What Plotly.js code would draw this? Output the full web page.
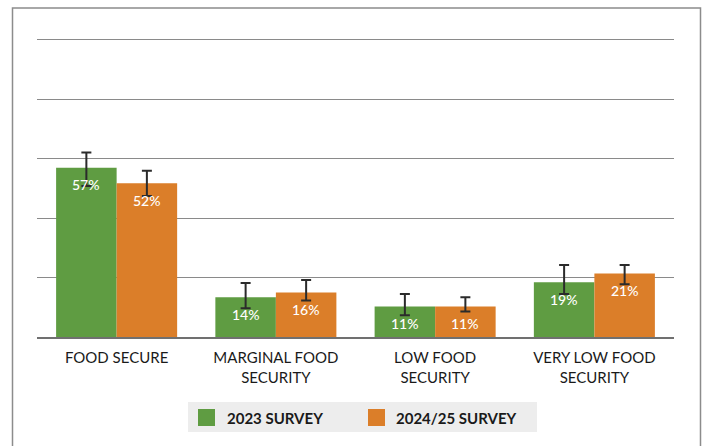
<!DOCTYPE html>
<html>
<head>
<meta charset="utf-8">
<script src="https://cdn.plot.ly/plotly-3.0.1.min.js"></script>
<style>html,body{margin:0;padding:0;background:#fff;}#chart{width:704px;height:446px;}</style>
</head>
<body>
<div id="chart"></div>
<script>
// ---- data ----
const categories = ["FOOD SECURE", "MARGINAL FOOD<br>SECURITY", "LOW FOOD<br>SECURITY", "VERY LOW FOOD<br>SECURITY"];
const seriesNames = ["2023 SURVEY", "2024/25 SURVEY"];
const values2023 = [57, 13.4, 10.3, 18.4];
const values2024 = [51.8, 15.0, 10.3, 21.4];
const labels2023 = ["57%", "14%", "11%", "19%"];
const labels2024 = ["52%", "16%", "11%", "21%"];
const errPlus2023 = [5.1, 4.8, 4.2, 5.8];
const errMinus2023 = [6.2, 3.7, 3.0, 3.9];
const errPlus2024 = [4.2, 4.2, 3.1, 2.8];
const errMinus2024 = [4.3, 2.7, 1.7, 3.6];
const colors = ["#5f9c42", "#db7e29"];

const errStyle = {type: "data", symmetric: false, color: "#2b2b2b", thickness: 2, width: 5};

const traces = [
  {type: "bar", name: seriesNames[0], x: categories, y: values2023, marker: {color: colors[0]},
   error_y: Object.assign({}, errStyle, {array: errPlus2023, arrayminus: errMinus2023}), hoverinfo: "skip"},
  {type: "bar", name: seriesNames[1], x: categories, y: values2024, marker: {color: colors[1]},
   error_y: Object.assign({}, errStyle, {array: errPlus2024, arrayminus: errMinus2024}), hoverinfo: "skip"}
];

const annotations = [];
const half = 0.19;
[[values2023, labels2023, -half], [values2024, labels2024, half]].forEach(([vals, labs, off]) => {
  vals.forEach((v, i) => {
    annotations.push({x: i + off, y: v, xref: "x", yref: "y", text: labs[i], showarrow: false,
      yshift: -17, yanchor: "middle", font: {family: "Lato, sans-serif", size: 14, color: "#ffffff", weight: 500}});
  });
});

// custom legend (paper coords: plot area 37..674 x, 37..337 y)
const px = p => (p - 37) / 637;
const py = p => (337 - p) / 300;
const shapes = [
  {type: "rect", xref: "paper", yref: "paper", x0: px(12.5), x1: px(700.5), y0: py(460), y1: py(8),
   line: {color: "#8c8c8c", width: 1.5}, fillcolor: "rgba(0,0,0,0)", layer: "below"},
  {type: "rect", xref: "paper", yref: "paper", x0: px(188), x1: px(537), y0: py(432), y1: py(402),
   line: {width: 0}, fillcolor: "#ededed", layer: "below"},
  {type: "rect", xref: "paper", yref: "paper", x0: px(198), x1: px(215), y0: py(426), y1: py(409),
   line: {width: 0}, fillcolor: colors[0]},
  {type: "rect", xref: "paper", yref: "paper", x0: px(368), x1: px(385), y0: py(426), y1: py(409),
   line: {width: 0}, fillcolor: colors[1]}
];
annotations.push({xref: "paper", yref: "paper", x: px(225), y: py(417.5), xanchor: "left", yanchor: "middle",
  text: seriesNames[0], showarrow: false, font: {family: "Lato, sans-serif", size: 15, color: "#1a1a1a", weight: 700}});
annotations.push({xref: "paper", yref: "paper", x: px(394), y: py(417.5), xanchor: "left", yanchor: "middle",
  text: seriesNames[1], showarrow: false, font: {family: "Lato, sans-serif", size: 15, color: "#1a1a1a", weight: 700}});

const layout = {
  width: 704, height: 446,
  margin: {l: 37, r: 30, t: 37, b: 109, pad: 0},
  paper_bgcolor: "#ffffff", plot_bgcolor: "#ffffff",
  showlegend: false,
  barmode: "group", bargap: 0.24, bargroupgap: 0,
  font: {family: "Lato, sans-serif", color: "#1a1a1a"},
  xaxis: {type: "category", range: [-0.5, 3.5], showgrid: false, zeroline: false,
    showline: true, linecolor: "#707070", linewidth: 2, ticks: "", ticklabelstandoff: 6,
    tickfont: {family: "Lato, sans-serif", size: 15, color: "#1a1a1a"}, fixedrange: true},
  yaxis: {range: [0, 101], tickvals: [20, 40, 60, 80, 100], showticklabels: false, showgrid: true, gridcolor: "#8a8a8a",
    gridwidth: 1, zeroline: false, showline: false, ticks: "", fixedrange: true},
  shapes: shapes,
  annotations: annotations
};

Plotly.newPlot("chart", traces, layout, {displayModeBar: false, staticPlot: true});
</script>
</body>
</html>
